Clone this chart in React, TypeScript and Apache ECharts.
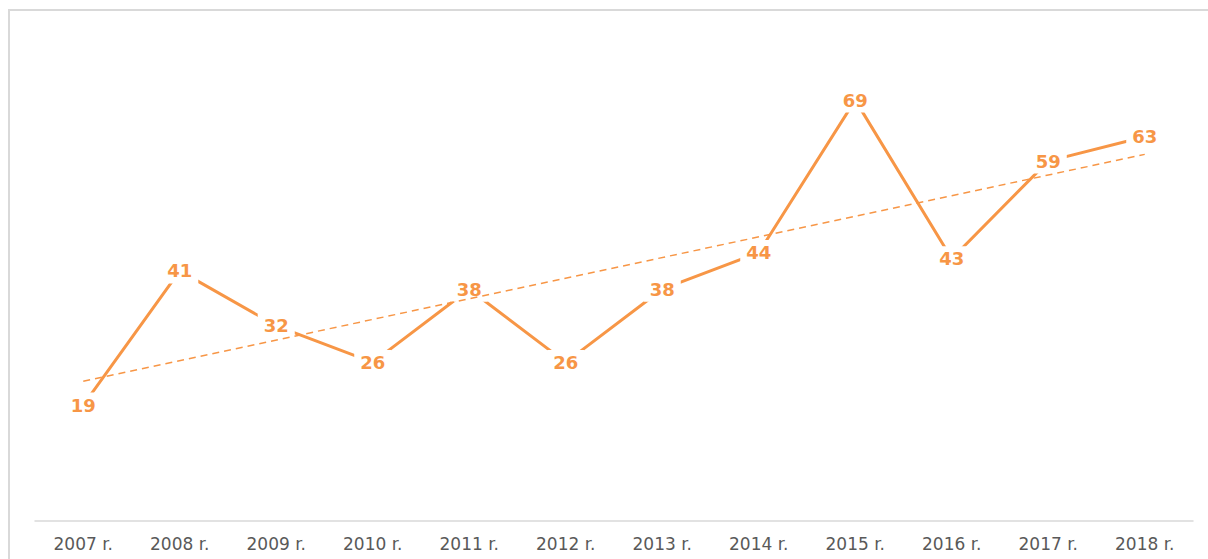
import React, { useEffect, useRef } from "react";
import * as echarts from "echarts";

const categories = ["2007 r.", "2008 r.", "2009 r.", "2010 r.", "2011 r.", "2012 r.", "2013 r.", "2014 r.", "2015 r.", "2016 r.", "2017 r.", "2018 r."];
const values = [19, 41, 32, 26, 38, 26, 38, 44, 69, 43, 59, 63];
// Linear trendline end values
const trendStart = 22.9;
const trendEnd = 60.1;

const ORANGE = "#F79646";

export default function App() {
  const ref = useRef<HTMLDivElement>(null);
  useEffect(() => {
    if (!ref.current) return;
    const chart = echarts.init(ref.current, null, { renderer: "svg" });
    chart.setOption({
      animation: false,
      backgroundColor: "#ffffff",
      graphic: [
        {
          type: "rect",
          shape: { x: 9, y: 10, width: 1220, height: 600 },
          style: { fill: "none", stroke: "#d9d9d9", lineWidth: 2 },
          silent: true,
          z: -1,
        },
      ],
      grid: { left: 35, right: 15, top: 33, bottom: 38 },
      xAxis: {
        type: "category",
        data: categories,
        boundaryGap: true,
        axisLine: { show: true, lineStyle: { color: "#d9d9d9", width: 1.5 } },
        axisTick: { show: false },
        axisLabel: {
          color: "#595959",
          fontSize: 17,
          fontFamily: "DejaVu Sans",
          margin: 14,
          interval: 0,
        },
        splitLine: { show: false },
      },
      yAxis: {
        type: "value",
        min: 0,
        max: 80,
        show: false,
        splitLine: { show: false },
      },
      series: [
        {
          type: "line",
          data: values,
          z: 2,
          symbol: "circle",
          symbolSize: 2,
          showSymbol: true,
          itemStyle: { color: ORANGE },
          lineStyle: { color: ORANGE, width: 3 },
          label: {
            show: true,
            position: "inside",
            color: ORANGE,
            fontWeight: "bold",
            fontSize: 18,
            fontFamily: "DejaVu Sans",
            backgroundColor: "#ffffff",
            padding: [4, 6, 3, 6],
            lineHeight: 18,
          },
        },
        {
          type: "line",
          data: [
            [categories[0], trendStart],
            [categories[categories.length - 1], trendEnd],
          ],
          z: 5,
          symbol: "none",
          lineStyle: { color: ORANGE, width: 1.5, type: [7, 5] },
          label: { show: false },
        },
      ],
    });
    return () => chart.dispose();
  }, []);
  return (
    <div
      ref={ref}
      style={{ position: "fixed", left: 0, top: 0, width: 1208, height: 559 }}
    />
  );
}
